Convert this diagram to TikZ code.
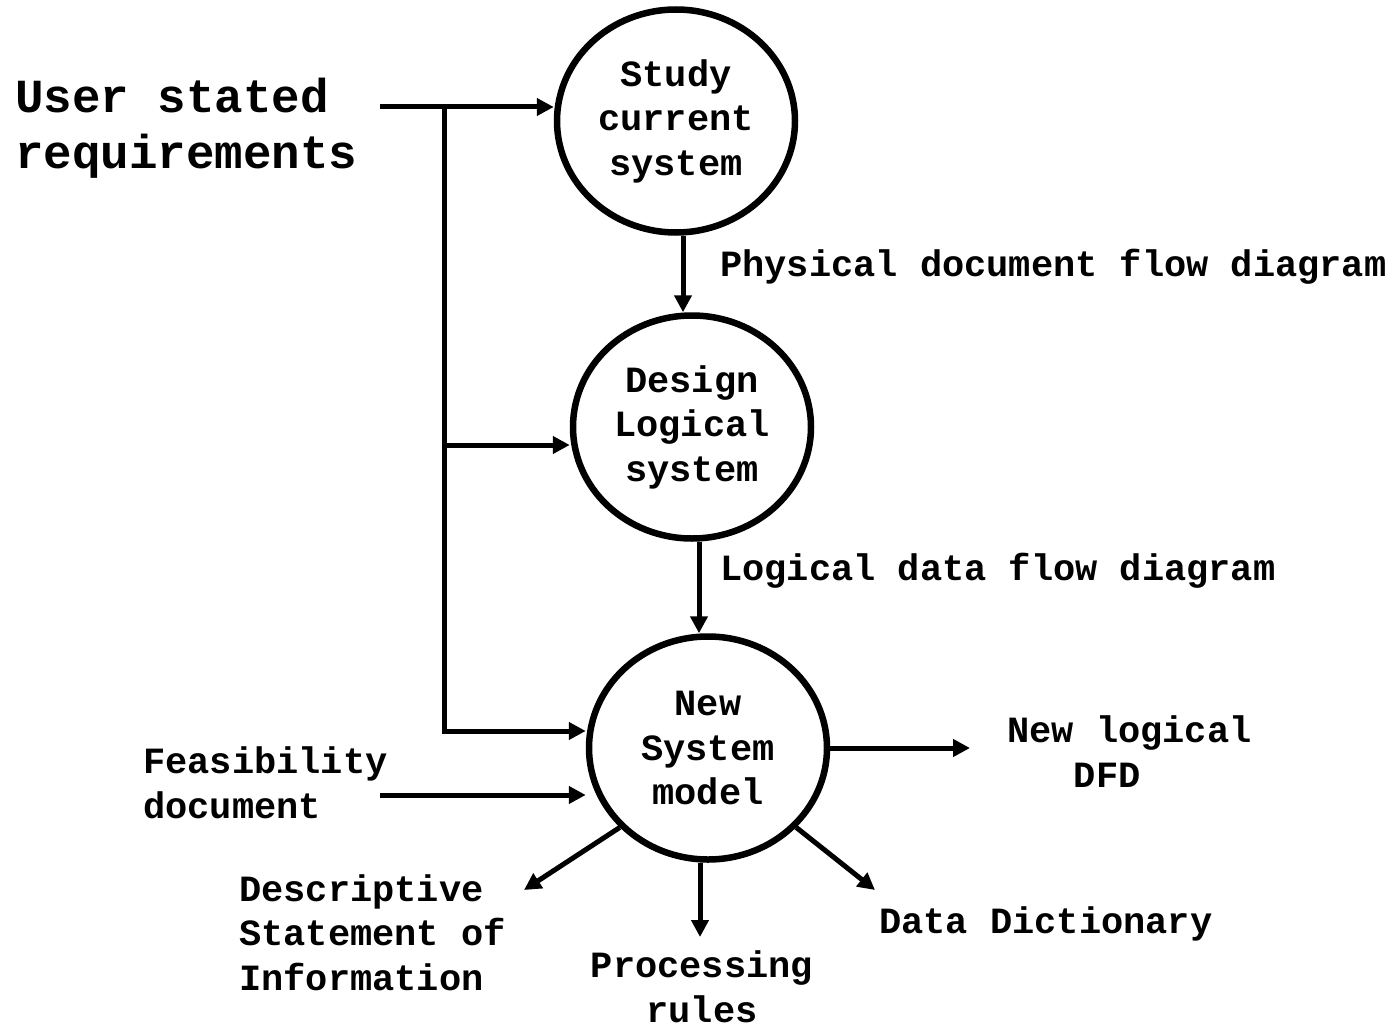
\documentclass[tikz,border=0pt]{standalone}
\usepackage{fontspec}
\setmainfont{Liberation Mono}
\usetikzlibrary{arrows.meta,shapes.geometric}

\begin{document}
\begin{tikzpicture}[x=1pt,y=-1pt,
  txt/.style={font=\bfseries\fontsize{37}{44.5}\selectfont, inner sep=0pt},
  bigtxt/.style={font=\bfseries\fontsize{47.5}{56}\selectfont, inner sep=0pt},
  proc/.style={ellipse, draw, line width=6.5pt, minimum width=238pt,
    minimum height=223pt, inner sep=0pt, align=center, txt},
  flow/.style={line width=5pt},
  arr/.style={flow, -{Triangle[length=17pt,width=17pt]}},
]
\useasboundingbox (0,0) rectangle (1397,1030);

% processes
\node[proc] (study)  at (676,121) {Study\\current\\system};
\node[proc] (design) at (692,427) {Design\\Logical\\system};
\node[proc] (model)  at (708,748) {New\\System\\model};

% labels (base anchor = baseline of the last line)
\node[bigtxt, anchor=base west, align=left] (user) at (15,168) {User stated\\requirements};
\node[txt, anchor=base west] (phys) at (720,276) {Physical document flow diagram};
\node[txt, anchor=base west] (logi) at (720,580) {Logical data flow diagram};
\node[txt, anchor=base west, align=left] (feas) at (143,818) {Feasibility\\document};
\node[txt, anchor=base west, align=left] (desc) at (239,990) {Descriptive\\Statement of\\Information};
\node[txt, anchor=base west, align=left] (dfd) at (1007,787) {New logical\\\phantom{New}DFD};
\node[txt, anchor=base west] (dict) at (879,933) {Data Dictionary};
\node[txt, anchor=base, align=center] (rules) at (702,1022) {Processing\\rules};

% junctions and free ends
\coordinate (uin) at (380,107);
\coordinate (ja) at (444,107);
\coordinate (jb) at (444,445);
\coordinate (jc) at (444,731);
\coordinate (fin) at (380,795);
\coordinate (dfdin) at (970,748);
\coordinate (descin) at (524,890);
\coordinate (rulesin) at (700,937);
\coordinate (dictin) at (875,890);

% inputs
\draw[flow] (uin) -- (ja);
\draw[arr] (ja) -- (study.west |- ja);
\draw[arr, line join=miter] (ja) -- (jc) -- (model.west |- jc);
\draw[arr] (jb) -- (design.west |- jb);
\draw[arr] (fin) -- (model.west |- fin);

% flows between processes
\draw[arr] ([xshift=7pt]study.south) -- ([xshift=-9pt]design.north);
\draw[arr] ([xshift=7pt]design.south) -- ([xshift=-9pt]model.north);

% outputs
\draw[arr] (model.east) -- (dfdin);
\draw[arr] (model.222) -- (descin);
\draw[arr] ([xshift=-8pt]model.south) -- (rulesin);
\draw[arr] (model.318) -- (dictin);
\end{tikzpicture}
\end{document}
